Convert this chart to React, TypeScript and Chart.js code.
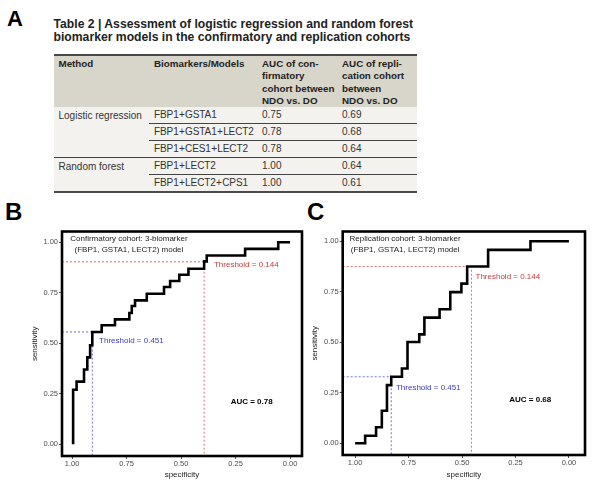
import React, { useEffect, useRef } from 'react';
import { Chart, registerables } from 'chart.js';

Chart.register(...registerables);

// ---------- Table data ----------
const tableTitle = [
  'Table 2 | Assessment of logistic regression and random forest',
  'biomarker models in the confirmatory and replication cohorts',
];
const headerMethod = ['Method'];
const headerModels = ['Biomarkers/Models'];
const headerConf = ['AUC of con-', 'firmatory', 'cohort between', 'NDO vs. DO'];
const headerRepl = ['AUC of repli-', 'cation cohort', 'between', 'NDO vs. DO'];
const methods = ['Logistic regression', 'Random forest'];
const methodRowCounts = [3, 2];
const models = ['FBP1 + GSTA1', 'FBP1 + GSTA1 + LECT2', 'FBP1 + CES1 + LECT2', 'FBP1 + LECT2', 'FBP1 + LECT2 + CPS1'];
const aucConfirmatory = ['0.75', '0.78', '0.78', '1.00', '1.00'];
const aucReplication = ['0.69', '0.68', '0.64', '0.64', '0.61'];

// ---------- ROC data (B: confirmatory) ----------
const confSpecificity = [0.995, 0.995, 0.979, 0.945, 0.93, 0.917, 0.907, 0.864, 0.803, 0.737, 0.726, 0.711, 0.657, 0.578, 0.55, 0.508, 0.466, 0.394, 0.382, 0.206, 0.054, 0];
const confSensitivity = [0, 0.27, 0.31, 0.37, 0.43, 0.49, 0.556, 0.589, 0.618, 0.65, 0.684, 0.712, 0.745, 0.778, 0.808, 0.839, 0.869, 0.905, 0.934, 0.967, 1, 1];
const confThrSpecificity = [0.907, 0.394];
const confThrSensitivity = [0.556, 0.903];

// ---------- ROC data (C: replication) ----------
const replSpecificity = [1.0, 0.953, 0.902, 0.875, 0.851, 0.831, 0.781, 0.755, 0.7, 0.676, 0.605, 0.555, 0.503, 0.476, 0.378, 0.18, 0];
const replSensitivity = [0, 0.037, 0.079, 0.161, 0.288, 0.329, 0.37, 0.501, 0.539, 0.622, 0.663, 0.748, 0.79, 0.875, 0.957, 1.0, 1.0];
const replThrSpecificity = [0.831, 0.456];
const replThrSensitivity = [0.329, 0.875];

const thresholdLabels = ['Threshold = 0.451', 'Threshold = 0.144'];
const thresholdTextColors = ['#3a3ac8', '#cc3a3a'];
const thresholdLineColors = ['#7070e0', '#e07070'];
const tickValues = [0, 0.25, 0.5, 0.75, 1];

const FONT = '"Liberation Sans", Arial, Helvetica, sans-serif';

type Note = { text: string; x: number; y: number; color: string; bold?: boolean; align: CanvasTextAlign };

type RocProps = {
  left: number; top: number; width: number; height: number;
  spec: number[]; sens: number[];
  thrSpec: number[]; thrSens: number[];
  xMin: number; xMax: number; yMin: number; yMax: number;
  yAxisWidth: number; xAxisHeight: number; padTop: number; padRight: number;
  yTitlePad: number; xTitlePad: number;
  notes: Note[];
};

function RocChart(p: RocProps) {
  const ref = useRef<HTMLCanvasElement | null>(null);
  useEffect(() => {
    if (!ref.current) return;
    const datasets: any[] = [
      {
        data: p.spec.map((s, i) => ({ x: s, y: p.sens[i] })),
        borderColor: '#000',
        borderWidth: 2.6,
        pointRadius: 0,
        stepped: 'before',
        fill: false,
      },
    ];
    p.thrSpec.forEach((s, i) => {
      datasets.push({
        data: [
          { x: p.xMax, y: p.thrSens[i] },
          { x: s, y: p.thrSens[i] },
          { x: s, y: p.yMin },
        ],
        borderColor: thresholdLineColors[i],
        borderWidth: 1,
        borderDash: [2, 2],
        pointRadius: 0,
        fill: false,
      });
    });
    const overlay = {
      id: 'overlay',
      afterDatasetsDraw(chart: any) {
        const { ctx, chartArea, scales } = chart;
        ctx.save();
        ctx.strokeStyle = '#000';
        ctx.lineWidth = 2.6;
        ctx.strokeRect(chartArea.left, chartArea.top, chartArea.right - chartArea.left, chartArea.bottom - chartArea.top);
        ctx.textBaseline = 'middle';
        p.notes.forEach((n) => {
          ctx.font = (n.bold ? 'bold ' : '') + '8px ' + FONT;
          ctx.fillStyle = n.color;
          ctx.textAlign = n.align;
          ctx.fillText(n.text, scales.x.getPixelForValue(n.x), scales.y.getPixelForValue(n.y));
        });
        ctx.restore();
      },
    };
    const tickFont = { family: FONT, size: 7.5 };
    const chart = new Chart(ref.current, {
      type: 'line',
      data: { datasets },
      plugins: [overlay],
      options: {
        animation: false,
        responsive: false,
        maintainAspectRatio: false,
        layout: { padding: { top: p.padTop, right: p.padRight, left: 0, bottom: 0 } },
        plugins: { legend: { display: false }, tooltip: { enabled: false } },
        scales: {
          x: {
            type: 'linear',
            reverse: true,
            min: p.xMin,
            max: p.xMax,
            afterFit: (s: any) => { s.height = p.xAxisHeight; },
            afterBuildTicks: (s: any) => { s.ticks = tickValues.map((v) => ({ value: v })); },
            ticks: { callback: (v: any) => Number(v).toFixed(2), font: tickFont, color: '#4d4d4d', padding: 0, maxRotation: 0, autoSkip: false },
            grid: { drawOnChartArea: false, tickLength: 3, color: '#555' },
            border: { display: false },
            title: { display: true, text: 'specificity', font: { family: FONT, size: 8 }, color: '#222', padding: { top: p.xTitlePad, bottom: 0 } },
          },
          y: {
            type: 'linear',
            min: p.yMin,
            max: p.yMax,
            afterFit: (s: any) => { s.width = p.yAxisWidth; },
            afterBuildTicks: (s: any) => { s.ticks = tickValues.map((v) => ({ value: v })); },
            ticks: { callback: (v: any) => Number(v).toFixed(2), font: tickFont, color: '#4d4d4d', padding: 1, autoSkip: false },
            grid: { drawOnChartArea: false, tickLength: 3, color: '#555' },
            border: { display: false },
            title: { display: true, text: 'sensitivity', font: { family: FONT, size: 8 }, color: '#222', padding: { top: p.yTitlePad, bottom: 0 } },
          },
        },
      } as any,
    });
    return () => chart.destroy();
  }, []);
  return (
    <canvas
      ref={ref}
      width={p.width}
      height={p.height}
      style={{ position: 'absolute', left: p.left, top: p.top, width: p.width, height: p.height }}
    />
  );
}

function Table() {
  const cellBase: React.CSSProperties = {
    padding: '0 0 0 5px',
    fontSize: 10,
    lineHeight: '16px',
    color: '#333',
    background: '#f3f2ee',
    whiteSpace: 'nowrap',
    verticalAlign: 'middle',
    textAlign: 'left',
    height: 16,
    overflow: 'hidden',
  };
  const th: React.CSSProperties = {
    padding: '2px 0 0 5px',
    fontSize: 9.8,
    lineHeight: '12.3px',
    fontWeight: 'bold',
    color: '#222',
    background: '#d8d6cb',
    verticalAlign: 'top',
    textAlign: 'left',
    whiteSpace: 'nowrap',
    height: 49,
    borderTop: '2px solid #4a4a4a',
  };
  const rows: React.ReactNode[] = [];
  let idx = 0;
  methods.forEach((m, g) => {
    for (let k = 0; k < methodRowCounts[g]; k++) {
      const i = idx;
      const sep = i > 0 ? '1.2px solid #444' : 'none';
      rows.push(
        <tr key={i}>
          {k === 0 && (
            <td rowSpan={methodRowCounts[g]} style={{ ...cellBase, verticalAlign: 'top', borderTop: sep, paddingTop: 0.5 }}>{m}</td>
          )}
          <td style={{ ...cellBase, borderTop: sep, wordSpacing: -2.3, letterSpacing: -0.1 }}>{models[i]}</td>
          <td style={{ ...cellBase, borderTop: sep }}>{aucConfirmatory[i]}</td>
          <td style={{ ...cellBase, borderTop: sep }}>{aucReplication[i]}</td>
        </tr>
      );
      idx++;
    }
  });
  const hdr = (lines: string[]) => lines.map((l, i) => <div key={i}>{l}</div>);
  return (
    <table
      style={{
        position: 'absolute', left: 53.5, top: 54, width: 363, borderCollapse: 'collapse', tableLayout: 'fixed',
        fontFamily: FONT, borderBottom: '2px solid #4a4a4a',
      }}
    >
      <colgroup>
        <col style={{ width: 95.5 }} />
        <col style={{ width: 108 }} />
        <col style={{ width: 80 }} />
        <col style={{ width: 79.5 }} />
      </colgroup>
      <thead>
        <tr>
          <th style={th}>{hdr(headerMethod)}</th>
          <th style={th}>{hdr(headerModels)}</th>
          <th style={th}>{hdr(headerConf)}</th>
          <th style={th}>{hdr(headerRepl)}</th>
        </tr>
      </thead>
      <tbody>{rows}</tbody>
    </table>
  );
}

export default function App() {
  const letter = (t: string, left: number, top: number, size: number) => (
    <div style={{ position: 'absolute', left, top, fontFamily: FONT, fontWeight: 'bold', fontSize: size, lineHeight: size + 'px', color: '#000' }}>{t}</div>
  );
  const confNotes: Note[] = [
    { text: 'Confirmatory cohort: 3-biomarker', x: 0.739, y: 1.018, color: '#222', align: 'center' },
    { text: '(FBP1, GSTA1, LECT2) model', x: 0.739, y: 0.964, color: '#222', align: 'center' },
    { text: thresholdLabels[0], x: 0.876, y: 0.51, color: thresholdTextColors[0], align: 'left' },
    { text: thresholdLabels[1], x: 0.349, y: 0.886, color: thresholdTextColors[1], align: 'left' },
    { text: 'AUC = 0.78', x: 0.176, y: 0.21, color: '#000', bold: true, align: 'center' },
  ];
  const replNotes: Note[] = [
    { text: 'Replication cohort: 3-biomarker', x: 0.766, y: 1.012, color: '#222', align: 'center' },
    { text: '(FBP1, GSTA1, LECT2) model', x: 0.766, y: 0.959, color: '#222', align: 'center' },
    { text: thresholdLabels[0], x: 0.809, y: 0.276, color: thresholdTextColors[0], align: 'left' },
    { text: thresholdLabels[1], x: 0.437, y: 0.826, color: thresholdTextColors[1], align: 'left' },
    { text: 'AUC = 0.68', x: 0.181, y: 0.217, color: '#000', bold: true, align: 'center' },
  ];
  return (
    <div style={{ position: 'absolute', left: 0, top: 0, width: 600, height: 480, background: '#fff', overflow: 'hidden' }}>
      {letter('A', 7, 8, 22)}
      <div style={{ position: 'absolute', left: 53.5, top: 17.5, fontFamily: FONT, fontWeight: 'bold', fontSize: 12.2, lineHeight: '13.5px', color: '#222', whiteSpace: 'nowrap' }}>
        {tableTitle.map((t, i) => <div key={i}>{t}</div>)}
      </div>
      <Table />
      {letter('B', 5, 200, 24)}
      {letter('C', 307, 200, 24)}
      <RocChart
        left={0} top={226} width={304} height={254}
        spec={confSpecificity} sens={confSensitivity}
        thrSpec={confThrSpecificity} thrSens={confThrSensitivity}
        xMin={-0.055} xMax={1.046} yMin={-0.058} yMax={1.053}
        yAxisWidth={62} xAxisHeight={24} padTop={5} padRight={2}
        yTitlePad={30} xTitlePad={3.5}
        notes={confNotes}
      />
      <RocChart
        left={304} top={226} width={296} height={254}
        spec={replSpecificity} sens={replSensitivity}
        thrSpec={replThrSpecificity} thrSens={replThrSensitivity}
        xMin={-0.075} xMax={1.058} yMin={-0.058} yMax={1.048}
        yAxisWidth={38.7} xAxisHeight={25} padTop={5} padRight={15}
        yTitlePad={6.2} xTitlePad={3.5}
        notes={replNotes}
      />
    </div>
  );
}
